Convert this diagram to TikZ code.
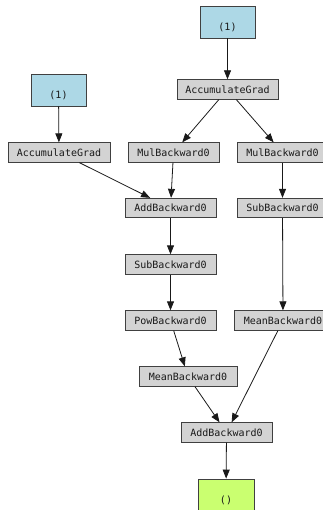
\documentclass[tikz,border=0pt]{standalone}
\usepackage{fontspec}
\setmonofont{DejaVu Sans Mono}
\usetikzlibrary{arrows.meta}
\definecolor{boxblue}{HTML}{ADD8E6}
\definecolor{boxgray}{HTML}{D3D3D3}
\definecolor{boxgreen}{HTML}{CAFF70}
\newcommand{\lowtext}[1]{\raisebox{-6pt}[7.5pt][2.5pt]{#1}}
\tikzset{
  opbox/.style={draw=black!75, fill=boxgray, line width=0.8pt, rectangle, inner sep=0pt,
    minimum height=19.5pt, font=\ttfamily\fontsize{10}{12}\selectfont, text=black!90},
  leafbox/.style={draw=black!75, fill=boxblue, line width=0.8pt, rectangle, inner sep=0pt,
    minimum width=55pt, minimum height=32pt, font=\ttfamily\fontsize{10}{12}\selectfont, text=black!90},
  outbox/.style={draw=black!75, fill=boxgreen, line width=0.8pt, rectangle, inner sep=0pt,
    minimum width=56pt, minimum height=32pt, font=\ttfamily\fontsize{10}{12}\selectfont, text=black!90},
  edge/.style={draw=black!90, line width=0.8pt, -{Triangle[length=9pt,width=7pt]}}
}
\begin{document}
\begin{tikzpicture}[x=1pt,y=-1pt]
\useasboundingbox (0,0) rectangle (323,510);
\node[leafbox] (leafA) at (227.5,22) {\lowtext{(1)}};
\node[leafbox] (leafB) at (58.5,90) {\lowtext{(1)}};
\node[opbox, minimum width=101pt] (accA) at (227.5,89.5) {AccumulateGrad};
\node[opbox, minimum width=102pt] (accB) at (59,152.5) {AccumulateGrad};
\node[opbox, minimum width=91pt] (mulL) at (173.5,152.5) {MulBackward0};
\node[opbox, minimum width=91pt] (mulR) at (282.5,152.5) {MulBackward0};
\node[opbox, minimum width=91pt] (add1) at (170.5,208) {AddBackward0};
\node[opbox, minimum width=91pt] (subR) at (282.5,208) {SubBackward0};
\node[opbox, minimum width=91pt] (subM) at (170.5,264.5) {SubBackward0};
\node[opbox, minimum width=91pt] (pow) at (170.5,320.5) {PowBackward0};
\node[opbox, minimum width=98pt] (meanR) at (283,320.5) {MeanBackward0};
\node[opbox, minimum width=98pt] (meanM) at (188,376.5) {MeanBackward0};
\node[opbox, minimum width=91pt] (add2) at (226.5,432.5) {AddBackward0};
\node[outbox] (out) at (226,495) {\lowtext{()}};
\draw[edge] (leafA) -- (accA);
\draw[edge] (leafB) -- (accB);
\draw[edge] (accA) -- (mulL);
\draw[edge] (accA) -- (mulR);
\draw[edge] (accB) -- (add1);
\draw[edge] (mulL) -- (add1);
\draw[edge] (mulR) -- (subR);
\draw[edge] (add1) -- (subM);
\draw[edge] (subM) -- (pow);
\draw[edge] (subR) -- (meanR);
\draw[edge] (pow) -- (meanM);
\draw[edge] (meanM) -- (add2);
\draw[edge] (meanR) -- (add2);
\draw[edge] (add2) -- (out);
\end{tikzpicture}
\end{document}
